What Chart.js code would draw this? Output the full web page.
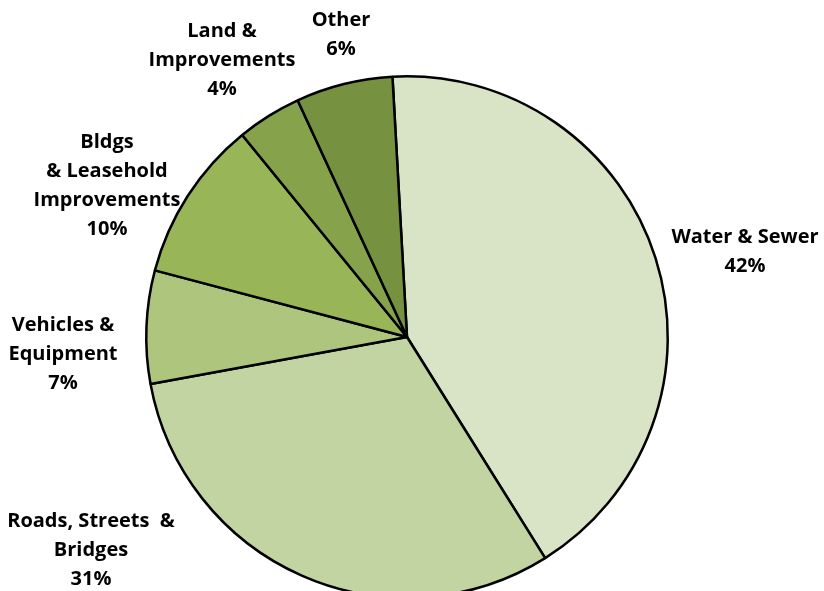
<!DOCTYPE html>
<html>
<head>
<meta charset="utf-8">
<script src="https://cdn.jsdelivr.net/npm/chart.js@4.4.1/dist/chart.umd.min.js"></script>
<style>
  html, body { margin: 0; padding: 0; background: #fff; overflow: hidden; }
  #wrap { position: relative; width: 824px; height: 620px; }
</style>
</head>
<body>
<div id="wrap"><canvas id="pieChart"></canvas></div>
<script>
// ---- data ----
const categories = ["Water & Sewer", "Roads, Streets  & Bridges", "Vehicles & Equipment",
                    "Bldgs & Leasehold Improvements", "Land & Improvements", "Other"];
const shares = [42, 31, 7, 10, 4, 6];
const sliceColors = ["#D8E4C5", "#C3D4A3", "#ADC57D", "#98B658", "#86A24B", "#76913F"];

// label text lines, as wrapped in the original
const labelLines = [
    ["Water & Sewer"],
    ["Roads, Streets  &", "Bridges"],
    ["Vehicles &", "Equipment"],
    ["Bldgs", "& Leasehold", "Improvements"],
    ["Land &", "Improvements"],
    ["Other"]
];
// where each label block sits, relative to the pie centre (px)
const labelOffsets = [
    [338, -85], [-316, 213], [-344, 17], [-300, -151], [-185, -277], [-66, -302]
];

const labelPlugin = {
    id: "outsideLabels",
    afterDatasetsDraw(chart) {
        const ctx = chart.ctx;
        const meta = chart.getDatasetMeta(0);
        const cx = meta.data[0].x, cy = meta.data[0].y;
        ctx.save();
        ctx.fillStyle = "#000";
        ctx.font = "bold 20px 'Open Sans'";
        ctx.textAlign = "center";
        ctx.textBaseline = "middle";
        const lh = 29;
        meta.data.forEach((arc, i) => {
            const lines = labelLines[i].concat([shares[i] + "%"]);
            const x = cx + labelOffsets[i][0];
            const y0 = cy + labelOffsets[i][1] - (lines.length - 1) * lh / 2;
            lines.forEach((t, k) => ctx.fillText(t, x, y0 + k * lh));
        });
        ctx.restore();
    }
};

new Chart(document.getElementById("pieChart"), {
    type: "pie",
    data: {
        labels: categories,
        datasets: [{
            data: shares,
            backgroundColor: sliceColors,
            borderColor: "#000",
            borderWidth: 2.5
        }]
    },
    options: {
        responsive: true,
        maintainAspectRatio: false,
        animation: false,
        rotation: -3.2,
        layout: { padding: { left: 145, right: 155, top: 75, bottom: 21 } },
        plugins: {
            legend: { display: false },
            tooltip: { enabled: false }
        }
    },
    plugins: [labelPlugin]
});
</script>
</body>
</html>
